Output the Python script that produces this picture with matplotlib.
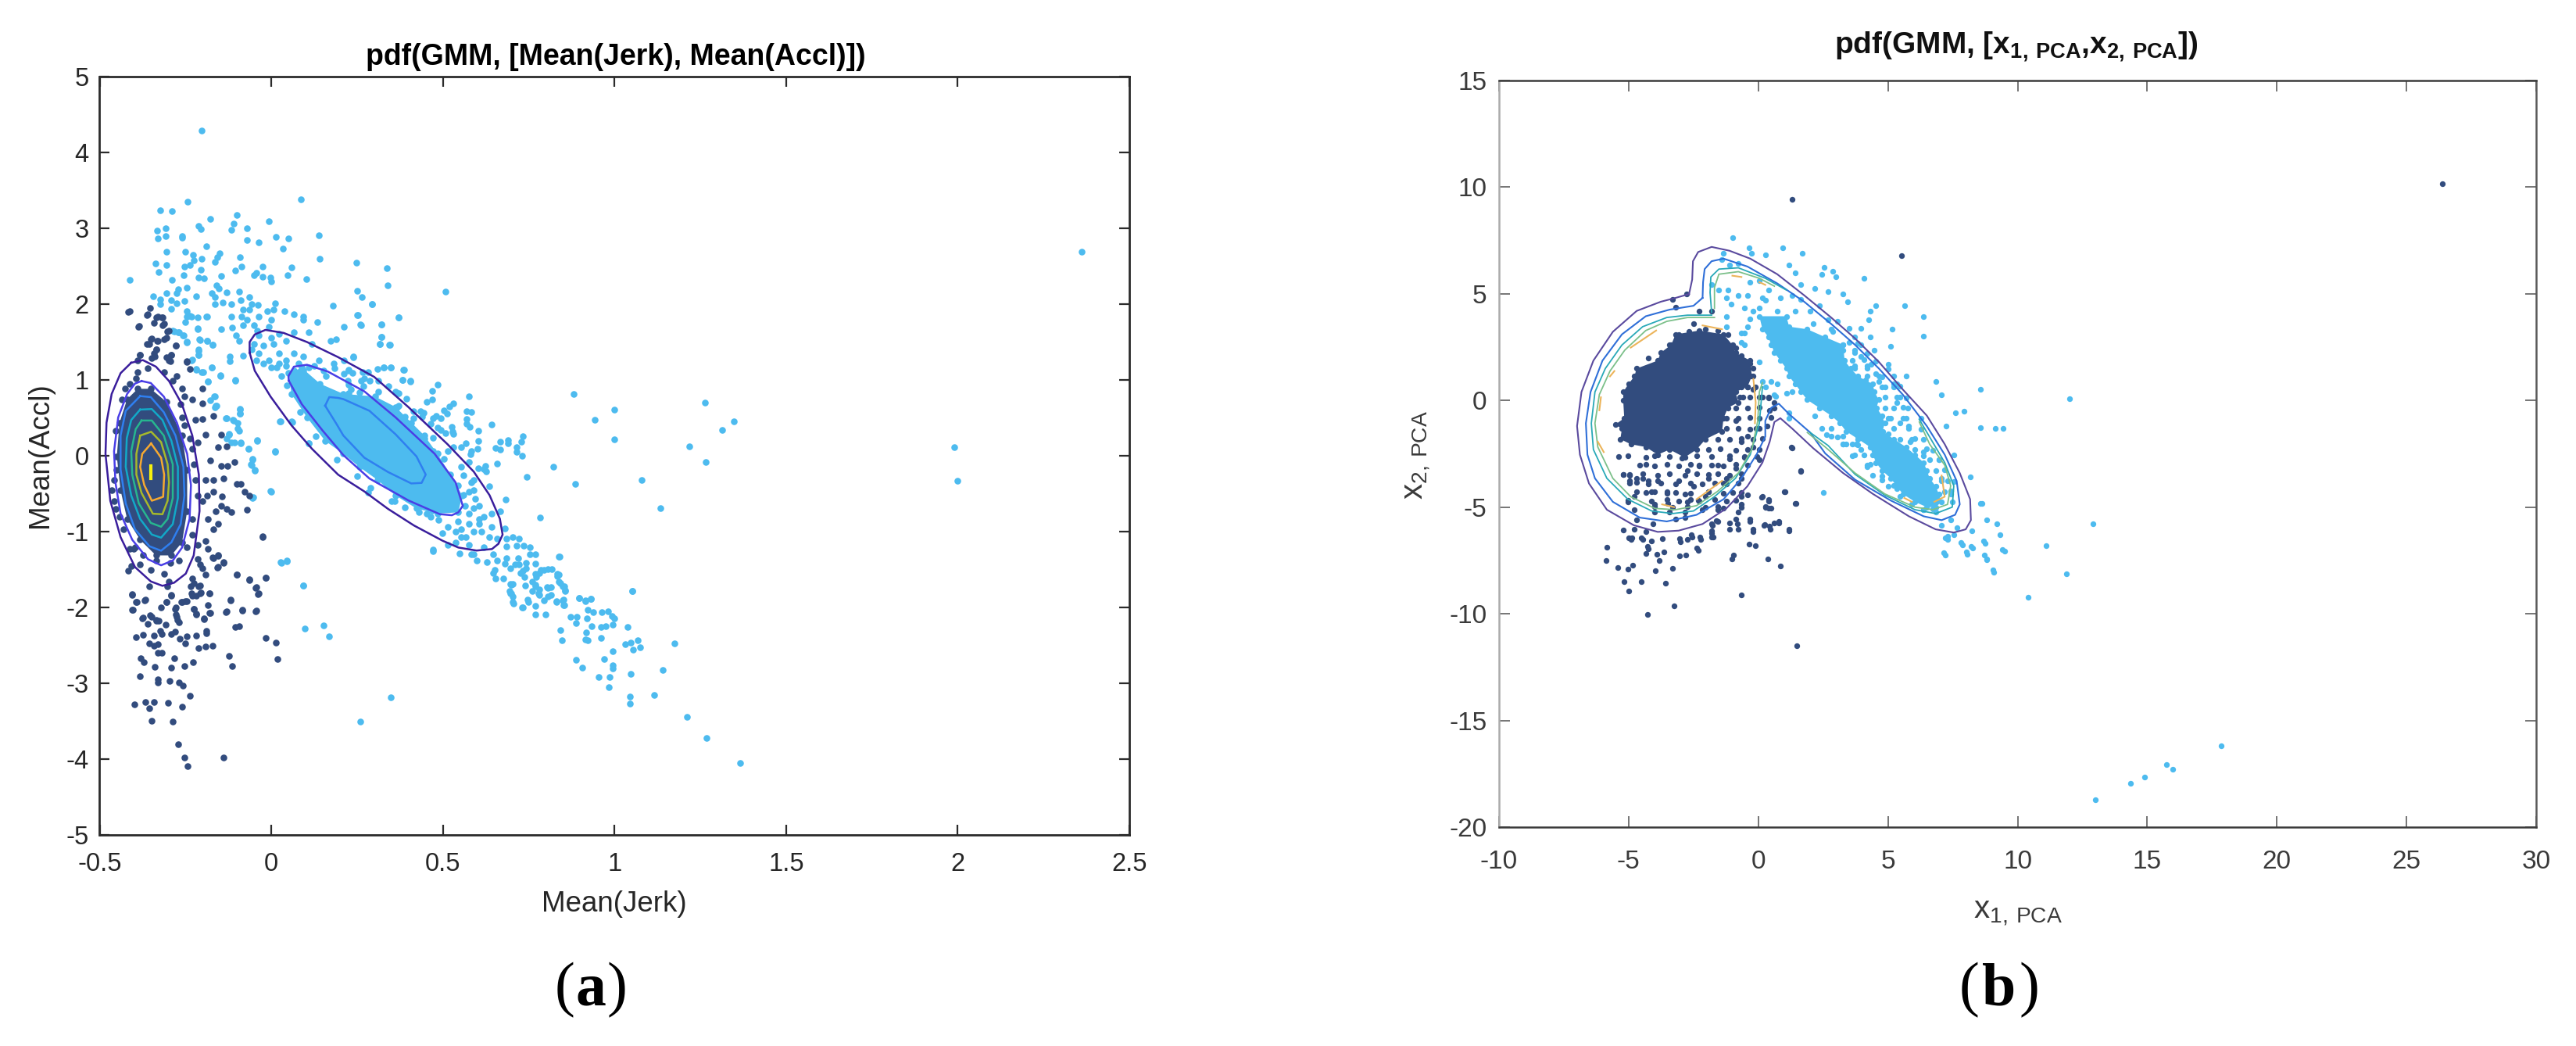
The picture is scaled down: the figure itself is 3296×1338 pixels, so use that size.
import numpy as np
import matplotlib
matplotlib.use('Agg')
import matplotlib.pyplot as plt

plt.rcParams['font.family'] = ['Liberation Sans', 'DejaVu Sans']
plt.rcParams['mathtext.fontset'] = 'custom'
plt.rcParams['mathtext.rm'] = 'Liberation Sans'
plt.rcParams['mathtext.bf'] = 'Liberation Sans:bold'
plt.rcParams['axes.unicode_minus'] = False

W, H = 3296, 1338
LIGHT = '#4dbbef'
DARK = '#324c7e'

# ---- panel (a) values
ticks_ax = [-0.5, 0, 0.5, 1, 1.5, 2, 2.5]
ticklabels_ax = ['-0.5', '0', '0.5', '1', '1.5', '2', '2.5']
ticks_ay = [-5, -4, -3, -2, -1, 0, 1, 2, 3, 4, 5]

core_dark_a = [(-0.389,0.883),(-0.351,0.883),(-0.306,0.712),(-0.260,0.266),(-0.245,-0.181),(-0.245,-0.730),(-0.260,-1.142),
               (-0.291,-1.314),(-0.336,-1.314),(-0.382,-1.108),(-0.420,-0.833),(-0.439,-0.456),(-0.450,-0.009),(-0.442,0.437),(-0.420,0.746)]
core_light_a = [(0.051,1.09),(0.089,1.16),(0.142,0.95),(0.21,0.816),(0.302,0.782),(0.362,0.644),(0.408,0.438),(0.446,0.267),(0.484,0.026),
                (0.522,-0.248),(0.556,-0.523),(0.545,-0.746),(0.484,-0.763),(0.423,-0.695),(0.362,-0.523),(0.309,-0.317),(0.256,-0.145),
                (0.21,0.026),(0.157,0.197),(0.104,0.506),(0.059,0.815)]

dark_a = [(-0.386,1.707),(-0.359,1.862),(-0.336,1.828),(-0.317,1.828),(-0.313,1.742),(-0.351,1.536),(-0.332,1.518),(-0.363,1.474),
          (-0.336,1.398),(-0.340,1.313),(-0.306,1.295),(-0.291,1.330),(-0.294,1.244),(-0.278,1.450),(-0.302,1.639),(-0.382,1.330),
          (-0.389,1.261),(-0.245,1.244),(-0.237,1.141),(-0.389,1.107),(-0.359,1.158),(-0.313,1.107),(-0.275,1.055),(-0.287,0.986),
          (-0.260,0.883),(-0.253,0.780),(-0.264,0.677),(-0.230,0.746),(-0.200,0.883),(-0.200,0.695),(-0.222,0.472),(-0.200,0.489),
          (-0.169,0.523),(-0.215,0.180),(-0.192,0.283),(-0.146,0.283),(-0.154,0.111),(-0.131,0.128),(-0.177,-0.061),(-0.108,-0.078),
          (-0.127,-0.129),(-0.146,-0.129),(-0.192,-0.318),(-0.169,-0.318),(-0.139,-0.301),(-0.101,-0.370),(-0.089,-0.370),(-0.078,-0.473),
          (-0.063,-0.524),(-0.169,-0.473),(-0.143,-0.541),(-0.188,-0.524),(-0.200,-0.593),(-0.146,-0.661),(-0.162,-0.730),(-0.131,-0.696),
          (-0.116,-0.747),(-0.070,-0.713),(-0.184,-0.833),(-0.154,-0.902),(-0.169,-0.970),(-0.025,-1.066),(-0.215,-1.176),(-0.192,-1.125),
          (-0.184,-1.228),(-0.215,-1.365),(-0.169,-1.348),(-0.154,-1.314),(-0.139,-1.399),(-0.207,-1.434),(-0.200,-1.485),(-0.192,-1.571),
          (-0.156,-1.468),(-0.101,-1.564),(-0.063,-1.629),(-0.017,-1.605),(-0.044,-1.732),(-0.036,-1.811),(-0.119,-1.897),(-0.181,-1.811),
          (-0.230,-1.623),(-0.207,-1.708),(-0.207,-1.811),(-0.234,-1.726),(-0.230,-1.846),(-0.291,-1.846),(-0.306,-1.932),(-0.321,-2.0),
          (-0.367,-1.897),(-0.393,-1.925),(-0.405,-1.829),(-0.405,-2.028),(-0.279,-2.0),(-0.275,-2.120),(-0.260,-1.925),(-0.245,-1.914),
          (-0.226,-2.017),(-0.219,-2.086),(-0.181,-2.069),(-0.196,-2.144),(-0.131,-2.052),(-0.084,-2.035),(-0.044,-2.045),(-0.374,-2.131),
          (-0.348,-2.120),(-0.336,-2.172),(-0.408,-1.451),(-0.382,-1.434),(-0.412,-1.228),(-0.401,-1.228),(-0.458,-0.593),(-0.465,-0.456),
          (-0.454,-0.696),(-0.431,-0.970),(-0.416,-1.520),(-0.351,-1.502),(-0.313,-1.554),(-0.298,-1.657),(-0.355,-1.726),(-0.302,-1.726),
          (-0.237,0.231),(-0.230,0.094),(-0.226,-0.112),(-0.222,-0.318),(-0.215,-0.524),(-0.230,-0.833),(-0.230,-1.039),(-0.245,-1.211),
          (-0.268,-1.382),(-0.294,-1.416),(-0.336,-1.382),(-0.374,-1.314),(-0.397,-1.211),(-0.442,-0.799),(-0.427,0.883),(-0.412,0.952),
          (-0.393,1.021),(-0.260,0.506),(-0.253,0.403),(-0.435,0.746),(-0.454,0.334),(-0.458,-0.318),(-0.450,-0.181),
          (-0.417,1.90),(-0.412,1.91),(-0.362,1.86),(-0.352,1.95),(-0.33,1.84),(-0.32,1.82),(-0.342,1.75),(-0.317,1.72),(-0.298,1.65),
          (-0.388,1.70),(-0.349,1.55),(-0.33,1.52),(-0.3125,1.54),(-0.305,1.56),(-0.279,1.45),(-0.356,1.47),(-0.334,1.40),(-0.342,1.355),
          (-0.349,1.29),(-0.291,1.33),(-0.298,1.26),(-0.382,1.33),(-0.246,1.24),
          (-0.406,-1.83),(-0.391,-1.93),(-0.369,-1.91),(-0.404,-2.03),(-0.375,-2.14),(-0.352,-2.10),(-0.334,-2.16),(-0.327,-2.18),(-0.360,-2.22),
          (-0.395,-2.39),(-0.373,-2.36),(-0.342,-2.37),(-0.324,-2.31),(-0.320,-2.35),(-0.308,-2.23),(-0.291,-2.35),(-0.281,-2.32),(-0.356,-2.47),
          (-0.342,-2.50),(-0.330,-2.48),(-0.266,-2.41),(-0.251,-2.47),(-0.247,-2.38),(-0.218,-2.37),(-0.189,-2.34),(-0.189,-2.31),(-0.211,-2.54),
          (-0.192,-2.52),(-0.172,-2.50),(-0.330,-2.60),(-0.320,-2.60),(-0.381,-2.67),(-0.371,-2.72),(-0.339,-2.78),(-0.283,-2.67),(-0.291,-2.79),
          (-0.254,-2.77),(-0.228,-2.72),(-0.382,-2.91),(-0.330,-2.95),(-0.330,-2.99),(-0.297,-2.97),(-0.269,-2.99),(-0.257,-3.03),(-0.237,-3.17),
          (-0.398,-3.28),(-0.366,-3.25),(-0.342,-3.25),(-0.355,-3.33),(-0.301,-3.26),(-0.260,-3.31),(-0.349,-3.49),(-0.288,-3.50),(-0.272,-3.80),
          (-0.253,-3.98),(-0.243,-4.09),(-0.140,-3.98),(-0.124,-2.64),(-0.115,-2.77),(-0.105,-2.26),(-0.094,-2.25),(-0.016,-2.40),(0.013,-2.46),
          (0.019,-2.68),(-0.132,-2.06),(-0.119,-1.91),(-0.084,-2.04),(-0.045,-2.05),(-0.100,-1.57),(-0.065,-1.64),(-0.017,-1.61),(-0.045,-1.74),
          (-0.038,-1.82),(-0.025,-1.07),(-0.157,-1.47),(-0.140,-1.41),(-0.172,-1.34),(-0.156,-1.32),(-0.291,-1.84),(-0.305,-1.93),(-0.262,-1.93),
          (-0.251,-1.92),(-0.280,-2.02),(-0.279,-2.09),(-0.273,-2.16),(-0.269,-2.20),(-0.225,-1.68),(-0.211,-1.72),(-0.206,-1.80),(-0.218,-1.85),
          (-0.233,-1.81),(-0.179,-1.81),(-0.185,-1.97),(-0.177,-2.07),(-0.218,-2.09),(-0.196,-2.15),(-0.225,-2.02)]

light_a = [(-0.203,4.29),(0.087,3.38),(-0.243,3.35),(-0.324,3.24),(-0.289,3.23),(-0.100,3.18),(-0.177,3.12),(-0.006,3.09),(-0.109,3.06),
           (-0.212,3.03),(-0.206,2.99),(-0.307,3.0),(-0.333,2.97),(-0.308,2.90),(-0.331,2.87),(-0.116,2.98),(-0.071,3.0),(-0.071,2.85),
           (-0.26,2.9),(-0.259,2.88),(0.138,2.91),(0.013,2.89),(0.049,2.87),(-0.036,2.81),(0.035,2.73),(-0.189,2.76),(-0.305,2.69),(-0.25,2.69),
           (-0.151,2.67),(-0.157,2.62),(-0.163,2.56),(-0.228,2.65),(-0.225,2.58),(-0.203,2.60),(-0.413,2.32),(-0.337,2.54),(-0.305,2.52),
           (-0.328,2.42),(-0.289,2.32),(-0.256,2.38),(-0.253,2.50),(-0.238,2.52),(-0.206,2.45),(-0.211,2.35),(-0.196,2.34),(-0.092,2.62),
           (-0.086,2.50),(-0.106,2.44),(-0.026,2.50),(-0.044,2.41),(-0.051,2.38),(-0.026,2.36),(-0.003,2.35),(0.0,2.30),(0.058,2.48),(0.048,2.38),
           (0.103,2.33),(0.141,2.60),(0.247,2.55),(0.337,2.47),(0.339,2.25),(0.507,2.17),(0.251,2.18),(0.263,2.09),(0.294,2.0),(0.18,1.98),
           (0.371,1.82),(0.251,1.86),(0.262,1.72),(0.321,1.73),(0.212,1.70),(0.134,1.76),(0.32,1.57),(0.317,1.47),(0.344,1.46),(-0.145,2.37),
           (-0.16,2.25),(-0.153,2.21),(-0.247,2.22),(-0.272,2.20),(-0.275,2.14),(-0.305,2.14),(-0.344,2.10),(-0.324,2.06),(-0.323,2.0),(-0.291,2.05),
           (-0.291,1.94),(-0.276,2.01),(-0.254,2.04),(-0.218,2.10),(-0.174,2.14),(-0.163,2.09),(-0.164,2.0),(-0.131,2.15),(-0.141,2.02),(-0.116,2.0),
           (-0.094,2.16),(-0.09,2.05),(-0.065,2.09),(-0.058,2.0),(-0.039,1.99),(0.012,2.01),(-0.083,1.93),(-0.065,1.93),(-0.012,1.91),(0.007,1.93),
           (0.039,1.91),(0.065,1.87),(-0.247,1.91),(-0.247,1.84),(-0.233,1.84),(-0.189,1.84),(-0.116,1.84),(-0.087,1.84),(-0.07,1.79),(-0.036,1.84),
           (0.0,1.79),(0.094,1.84),(0.094,1.79),(-0.251,1.76),(-0.214,1.68),(-0.145,1.67),(-0.113,1.69),(-0.083,1.72),(-0.051,1.72),(-0.041,1.65),
           (-0.007,1.70),(-0.283,1.64),(-0.269,1.63),(-0.257,1.59),(-0.246,1.49),(-0.208,1.53),(-0.188,1.52),(-0.17,1.46),(-0.211,1.40),(-0.211,1.33),
           (-0.102,1.59),(-0.094,1.52),(0.044,1.52),(0.065,1.63),(0.109,1.63),(0.119,1.47),(0.174,1.52),(0.189,1.54),(-0.121,1.31),(-0.121,1.25),
           (-0.083,1.32),(-0.233,1.26),(-0.218,1.13),(-0.203,1.10),(-0.174,1.17),(-0.148,1.06),(-0.106,1.0),(-0.185,0.98),(-0.167,0.78),(-0.16,0.66),
           (-0.164,0.64),(-0.131,0.50),(-0.109,0.46),(-0.092,0.62),(-0.092,0.56),(-0.097,0.36),(-0.124,0.29),(-0.116,0.18),(-0.09,0.17),(-0.041,0.20),
           (-0.067,0.09),(-0.055,-0.05),(-0.058,-0.12),(-0.048,-0.19),(0.012,0.05),(-0.001,-0.47),(-0.055,-0.56),(0.028,0.45),(0.058,0.45),(0.108,0.16),
           (0.283,-0.48),(0.36,-0.60),(-0.036,1.585),(0,1.56),(0.022,1.61),(-0.051,1.47),(-0.022,1.45),(0.007,1.47),(-0.036,1.355),(0.022,1.355),
           (0.065,1.355),(-0.007,1.26),(0.044,1.26),(0.094,1.31),(0.138,1.26),(0.015,1.17),(0.08,1.22),(0.153,1.12),(0.211,1.26),(0.24,1.31),(0.109,1.17),
           (0.185,1.15),(0.225,1.12),(0.327,1.17),(0.349,1.16),(0.385,1.13),(0.382,1.0),(0.404,0.99),(0.182,1.22),(0.283,1.10),(0.262,0.99),(0.3125,0.99),
           (0.371,0.82),(-0.238,1.845),(-0.215,1.828),(-0.188,1.838),(-0.287,1.646),(-0.272,1.632),(-0.256,1.587),(-0.245,1.501),(-0.215,1.673),
           (-0.230,1.268),(-0.209,1.536),(-0.188,1.519),(-0.171,1.460),(-0.212,1.381),(-0.211,1.330),(-0.218,1.141),(-0.199,1.107),(-0.173,1.168),
           (-0.148,1.055),(-0.184,0.980),(-0.106,0.993),(-0.165,0.780),(-0.177,0.729),(-0.162,0.660),(-0.133,0.499),(-0.112,0.471),(-0.097,0.437),
           (-0.093,0.334),(-0.092,0.609),(-0.092,0.557),(-0.124,0.283),(-0.131,0.231),(-0.108,0.180),(-0.089,0.173),(-0.042,0.204),(-0.067,0.094),
           (-0.055,-0.043),(-0.059,-0.112),(-0.048,-0.198),(0.011,0.060),(-0.002,-0.466),(-0.053,-0.551),(0.028,-1.406),(0.045,-1.382),(0.093,-1.708),
           (0.108,0.163),(0.024,0.454),(0.062,0.444),
           (0.294,2.0),(0.252,1.86),(0.37,1.82),(0.26,1.73),(0.322,1.73),(0.32,1.57),(0.317,1.47),(0.345,1.46),(0.239,1.30),(0.31,1.14),(0.328,1.17),
           (0.349,1.16),(0.386,1.13),(0.382,1.0),(0.405,0.98),(0.485,0.94),(0.469,0.86),(0.47,0.74),(0.452,0.71),(0.575,0.78),(0.53,0.69),(0.52,0.65),
           (0.503,0.60),(0.513,0.56),(0.569,0.59),(0.583,0.58),(0.57,0.48),(0.57,0.42),(0.579,0.38),(0.604,0.33),(0.643,0.41),(0.507,0.30),(0.526,0.38),
           (0.527,0.32),(0.48,0.53),(0.493,0.49),(0.471,0.24),(0.567,0.16),(0.603,0.20),(0.666,0.19),(0.689,0.21),(0.689,0.17),(0.734,0.26),(0.729,0.19),
           (0.715,0.11),(0.715,0.05),(0.730,0.0),(0.653,0.10),(0.666,0.085),(0.583,0.06),(0.60,0.09),(0.53,0.11),(0.514,0.06),(0.88,0.81),(0.999,0.61),
           (0.943,0.47),(0.999,0.215),(1.264,0.70),(1.314,0.34),(1.348,0.455),(1.217,0.12),(1.266,-0.08),(0.822,-0.14),(0.745,-0.28),(0.885,-0.37),
           (1.08,-0.32),(1.134,-0.69),(0.784,-0.815),(0.682,-0.58),(0.634,-0.40),(0.658,-0.10),(0.624,-0.13),(0.62,-0.18),(0.575,-0.08),(0.552,-0.145),
           (0.561,-0.26),(0.583,-0.35),(0.59,-0.32),(0.59,-0.455),(0.575,-0.47),(0.594,-0.565),(0.668,-0.73),(0.681,-0.955),(0.685,-1.09),(0.704,-1.07),
           (0.721,-1.09),(0.685,-1.2),(0.715,-1.19),(0.736,-1.19),(0.754,-1.21),(0.753,-1.30),(0.769,-1.30),(0.838,-1.33),(0.769,-1.42),(0.685,-1.35),
           (0.719,-1.35),(0.721,-1.43),(0.741,-1.41),(0.711,-1.43),(0.696,-1.48),(0.734,-1.52),(0.742,-1.48),(0.727,-1.55),(0.795,-1.50),(0.818,-1.49),
           (0.78,-1.55),(0.772,-1.60),(0.837,-1.57),(0.833,-1.59),(0.837,-1.66),(0.651,-1.50),(0.647,-1.55),(0.653,-1.62),(0.677,-1.62),(0.696,-1.69),
           (0.704,-1.69),(0.738,-1.60),(0.74,-1.71),(0.761,-1.66),(0.769,-1.72),(0.761,-1.78),(0.78,-1.76),(0.803,-1.735),(0.814,-1.73),(0.854,-1.72),
           (0.856,-1.78),(0.695,-1.78),(0.696,-1.81),(0.78,-1.84),(0.795,-1.91),(0.814,-1.84),(0.704,-1.86),(0.704,-1.93),(0.747,-1.90),(0.83,-1.92),
           (0.852,-1.90),(0.852,-1.97),(0.898,-1.88),(0.915,-1.91),(0.932,-1.89),(1.051,-1.78),(0.731,-2.0),(0.769,-1.98),(0.59,-1.30),(0.598,-1.38),
           (0.628,-1.40),(0.583,-1.30),(0.647,-1.30),(0.658,-1.38),(0.681,-1.42),(0.471,-1.24),(0.548,-1.29),(0.575,-0.76),(0.59,-0.69),(0.605,-0.66),
           (0.575,-0.90),(0.605,-0.83),(0.552,-0.97),(0.59,-1.0),(0.552,-1.07),(0.575,-1.18),(0.62,-1.21),(0.636,-1.07),(0.658,-1.09),(0.643,-0.94),
           (0.613,-1.0),(0.643,-0.76),(0.62,-0.80),(0.537,-1.0),(0.545,-0.87),(0.514,-0.94),(0.488,-0.85),(0.499,-1.02),(0.465,-0.80),(0.453,-0.76),
           (0.514,-1.18),(0.537,-1.14),(0.567,-1.07),(0.605,-0.90),(0.435,0.59),(0.465,0.42),(0.484,0.37),(0.446,0.23),(0.472,0.06),(0.503,-0.04),
           (0.514,-0.25),(0.545,-0.39),(0.56,-0.52),(0.44,0.52),(0.415,0.49),(0.389,0.52),(0.362,0.85),(0.393,0.75),(0.366,0.64),(0.31,0.61),(0.286,0.71),
           (0.256,0.83),(0.226,0.82),(0.233,0.88),(0.271,1.02),(0.222,0.99),(0.286,0.99),(0.267,1.10),(0.237,1.09),(0.226,1.13),
           (0.029,-1.41),(0.045,-1.39),(0.093,-1.71),(0.097,-2.28),(0.153,-2.24),(0.169,-2.38),(0.349,-3.19),(0.259,-3.50),(0.471,-1.26),(0.839,-1.33),
           (1.051,-1.78),(1.174,-2.47),(1.141,-2.82),(1.115,-3.15),(1.211,-3.44),(1.269,-3.72),(1.365,-4.05),(1.045,-3.18),(1.045,-3.27),(1.048,-2.88),
           (0.983,-3.05),(0.985,-2.92),(0.953,-2.92),(0.906,-2.79),(0.887,-2.69),(0.969,-2.68),(0.996,-2.58),(0.996,-2.76),(0.996,-2.80),(1.032,-2.48),
           (1.047,-2.46),(1.068,-2.43),(1.074,-2.53),(1.054,-2.56),(1.038,-2.26),(0.996,-2.23),(0.999,-2.14),(0.974,-2.25),(0.961,-2.26),(0.933,-2.25),
           (0.961,-2.40),(0.923,-2.43),(0.916,-2.42),(0.917,-2.33),(0.887,-2.21),(0.872,-2.12),(0.890,-2.12),(0.843,-2.30),(0.846,-2.43),(0.919,-2.14),
           (0.923,-2.03),(0.938,-2.06),(0.962,-2.06),(0.981,-2.05),(0.993,-2.11),(0.898,-1.88),(0.916,-1.92),(0.932,-1.89),(0.850,-1.91),(0.853,-1.97),
           (0.831,-1.93),(0.807,-1.86),(0.80,-2.09),(0.77,-2.09),(0.749,-1.93),(0.734,-2.0),(0.705,-1.95),(0.698,-1.81),(0.698,-1.70),(0.833,-1.56),
           (0.843,-1.68),(0.855,-1.77),(0.807,-1.49),(0.785,-1.51),(0.77,-1.56),(0.77,-1.70),(0.778,-1.81),(0.807,-1.74),(0.85,-1.72),
           (-0.058,1.40),(-0.044,1.26),(-0.022,1.22),(0,1.17),(0.022,1.22),(0.044,1.19),(0.065,1.12),(0.094,1.12),(0.124,1.19),(0.16,1.055),(0.211,1.08),
           (0.225,0.94),(0.269,0.92),(0.3125,0.85),(0.342,0.92),(0.371,0.66),(0.414,0.59),(0.443,0.57),(0.472,0.50),(0.494,0.34),(0.53,0.29),(0.552,0.11),
           (0.581,0.02),(0.603,-0.17),(0.625,-0.21),(0.47,-0.72),(0.43,-0.74),(0.39,-0.68),(0.35,-0.60),(0.29,-0.42),(0.25,-0.27),(0.19,-0.05),(0.13,0.26),
           (0.085,0.58),(0.045,0.93),(0.03,1.05),(0.52,-0.62),(0.565,-0.66),
           (1.99,0.11),(2.0,-0.33),(2.36,2.69)]

# contours of panel (a), first group around the dark cluster, outer ones first
ca_dark = [
    ('#3a1e9c', 1.8, [(-0.408,1.227),(-0.374,1.261),(-0.336,1.175),(-0.298,0.986),(-0.260,0.677),(-0.230,0.266),(-0.211,-0.249),(-0.209,-0.730),
                      (-0.226,-1.314),(-0.249,-1.554),(-0.283,-1.674),(-0.317,-1.715),(-0.351,-1.657),(-0.397,-1.468),(-0.439,-1.073),(-0.469,-0.593),
                      (-0.483,0.025),(-0.480,0.437),(-0.465,0.815),(-0.439,1.089),(-0.408,1.227)]),
    ('#4a3fe6', 1.8, [(-0.378,0.986),(-0.351,0.959),(-0.313,0.780),(-0.275,0.437),(-0.245,0.025),(-0.234,-0.387),(-0.238,-0.833),(-0.260,-1.211),
                      (-0.287,-1.382),(-0.321,-1.444),(-0.359,-1.365),(-0.405,-1.108),(-0.439,-0.764),(-0.454,-0.352),(-0.458,0.060),(-0.446,0.506),
                      (-0.420,0.815),(-0.397,0.952),(-0.378,0.986)]),
    ('#2f7ff0', 1.8, [(-0.382,0.787),(-0.351,0.774),(-0.313,0.574),(-0.279,0.266),(-0.256,-0.146),(-0.253,-0.524),(-0.264,-0.902),(-0.291,-1.142),
                      (-0.321,-1.252),(-0.355,-1.193),(-0.397,-0.970),(-0.424,-0.627),(-0.439,-0.181),(-0.439,0.266),(-0.424,0.592),(-0.382,0.787)]),
    ('#12a9c8', 1.8, [(-0.382,0.609),(-0.348,0.616),(-0.317,0.472),(-0.291,0.197),(-0.272,-0.146),(-0.272,-0.558),(-0.287,-0.902),(-0.321,-1.080),
                      (-0.348,-1.039),(-0.382,-0.833),(-0.408,-0.524),(-0.424,-0.146),(-0.421,0.231),(-0.408,0.472),(-0.382,0.609)]),
    ('#27b68f', 1.8, [(-0.378,0.465),(-0.348,0.465),(-0.313,0.266),(-0.287,-0.112),(-0.287,-0.558),(-0.302,-0.833),(-0.321,-0.936),(-0.351,-0.885),
                      (-0.386,-0.627),(-0.405,-0.249),(-0.408,0.060),(-0.395,0.351),(-0.378,0.465)]),
    ('#a6b92b', 1.8, [(-0.382,0.266),(-0.350,0.317),(-0.321,0.180),(-0.302,-0.112),(-0.298,-0.352),(-0.302,-0.593),(-0.317,-0.771),(-0.345,-0.764),
                      (-0.378,-0.490),(-0.393,-0.249),(-0.393,0.025),(-0.382,0.266)]),
    ('#f6a931', 1.8, [(-0.350,0.162),(-0.321,-0.026),(-0.312,-0.249),(-0.315,-0.541),(-0.348,-0.593),(-0.370,-0.387),(-0.382,-0.146),(-0.376,0.025),(-0.350,0.162)]),
    ('#f5f00f', 3.0, [(-0.350,-0.129),(-0.350,-0.301)]),
]
ca_light = [
    ('#3a1e9c', 1.8, [(-0.063,1.36),(-0.063,1.50),(-0.048,1.60),(-0.017,1.66),(0.036,1.62),(0.104,1.50),(0.195,1.30),(0.30,1.04),(0.40,0.64),(0.514,0.15),
                      (0.59,-0.21),(0.636,-0.52),(0.666,-0.83),(0.674,-1.04),(0.662,-1.16),(0.643,-1.23),(0.598,-1.25),(0.545,-1.21),(0.499,-1.12),(0.416,-0.92),
                      (0.340,-0.70),(0.271,-0.47),(0.195,-0.25),(0.119,0.09),(0.059,0.40),(-0.002,0.78),(-0.048,1.12),(-0.063,1.36)]),
    ('#4a3fe6', 1.8, [(0.051,0.99),(0.05,1.05),(0.066,1.175),(0.104,1.20),(0.165,1.11),(0.271,0.85),(0.362,0.507),(0.476,0.026),(0.537,-0.351),(0.558,-0.66),
                      (0.545,-0.746),(0.526,-0.784),(0.491,-0.77),(0.40,-0.59),(0.286,-0.30),(0.21,0.009),(0.15,0.33),(0.089,0.68),(0.051,0.99)]),
    ('#2f7ff0', 1.8, [(0.157,0.66),(0.169,0.774),(0.195,0.763),(0.21,0.747),(0.286,0.593),(0.362,0.284),(0.423,-0.008),(0.45,-0.248),(0.438,-0.358),(0.408,-0.365),
                      (0.34,-0.214),(0.271,-0.025),(0.21,0.267),(0.19,0.42),(0.157,0.66)]),
]

# ---- panel (b) values
ticks_bx = [-10, -5, 0, 5, 10, 15, 20, 25, 30]
ticks_by = [-20, -15, -10, -5, 0, 5, 10, 15]

core_dark_b = [(-3.19,3.10),(-2.27,3.28),(-1.34,3.10),(-1.0,2.61),(-0.88,2.24),(-0.31,1.87),(-0.25,1.13),(-0.42,0.64),(-0.88,0.40),(-0.77,-0.09),(-1.17,-0.34),
               (-1.34,-0.83),(-1.40,-1.44),(-2.03,-1.81),(-2.38,-2.30),(-2.84,-2.67),(-3.42,-2.30),(-3.88,-2.54),(-4.34,-2.18),(-4.92,-2.05),(-5.32,-1.81),(-5.26,-1.32),
               (-5.52,-1.13),(-5.17,-0.83),(-5.21,0.0),(-5.21,0.40),(-5.01,0.77),(-4.78,1.13),(-4.69,1.50),(-3.88,1.87),(-3.76,2.24),(-3.36,2.61)]
core_light_b = [(0.04,3.95),(1.08,3.95),(1.19,3.46),(1.89,3.34),(2.58,2.97),(3.27,2.61),(3.33,1.87),(3.56,1.50),(3.85,1.13),(4.42,0.77),(4.48,0.40),(4.65,0.03),(4.56,-0.34),
                (4.77,-0.71),(4.88,-1.07),(4.79,-1.44),(5.23,-1.81),(5.69,-2.18),(6.04,-2.54),(6.38,-2.91),(6.50,-3.28),(6.61,-3.65),(6.84,-4.02),(6.96,-4.38),(7.07,-4.75),
                (6.84,-5.0),(6.50,-5.0),(6.04,-4.75),(5.57,-4.38),(5.34,-4.02),(5.11,-3.65),(4.77,-3.28),(4.54,-2.91),(4.42,-2.54),(4.31,-2.18),(3.85,-1.81),(3.38,-1.44),
                (3.15,-1.07),(2.81,-0.71),(2.35,-0.34),(1.89,0.03),(1.65,0.40),(1.42,0.77),(1.19,1.13),(1.08,1.50),(0.85,1.87),(0.62,2.24),(0.50,2.61),(0.39,2.97),(0.16,3.34)]

dark_b = [(1.29,9.42),(26.39,10.17),(5.53,6.79),(1.48,-11.51),(-3.24,-9.62),(-4.26,-10.03),(-0.67,-9.11),(-3.59,-8.57),(-4.51,-8.49),(-5.18,-8.49),(-5.01,-8.93),
          (0.86,-7.75),(0.36,-7.44),(-1.02,-7.43),(-0.96,-7.23),(-5.41,-7.85),(-5.03,-7.89),(-4.86,-7.72),(-3.97,-7.98),(-3.32,-7.87),(-5.87,-7.52),(-5.85,-6.87),
          (-4.34,-7.18),(-3.92,-7.21),(-3.63,-7.1),(-3.82,-7.51),(-3.03,-7.3),(-2.8,-7.26),(-4.26,-6.85),(-2.38,-6.9),(-2.25,-6.41),(-2.57,-6.31),(-3.05,-6.49),
          (-1.8,-6.39),(-1.79,-6.23),(-0.36,-6.74),(-0.12,-6.8),(1.17,-6.03),(0.79,-5.66),(0.6,-5.74),(0.25,-5.8),(0.44,-5.9),(-0.31,-5.57),(-0.21,-6.03),(-1.61,-5.62),
          (-1.77,-5.87),(-5.01,-6.44),(-4.88,-6.44),(-4.51,-6.44),(1.46,-4.81),(1.0,-4.27),(0.12,-4.52),(0.4,-4.71),(0.4,-5.04),(1.27,-2.18),(1.65,-3.28),
          (-3.07,3.10),(-2.67,3.22),(-2.03,3.34),(-1.57,3.28),(-1.17,3.10),(-2.50,3.59),(-3.42,2.60),(-1.46,2.73),(-0.88,2.48),(-1.0,2.11),(-0.65,2.11),(-0.42,1.50),
          (-0.31,1.75),(-0.65,1.13),(-1.0,0.89),(-0.42,0.64),(-0.19,0.52),(-0.59,0.15),(-1.0,0.4),(0.04,0.15),(0.39,0.15),(0.62,-0.09),(0.44,-0.46),(0.33,-1.2),(-0.42,-1.69),
          (-0.07,-1.32),(-0.88,-0.95),(-0.65,-1.93),(-0.19,-2.18),(-1.11,-2.73),(-0.54,-2.67),(0.04,-2.79),(-1.57,-3.03),(-0.88,-3.16),(-1.23,-3.65),(-0.65,-3.65),(-1.92,-3.65),
          (-2.27,-3.03),(-2.73,-3.28),(-3.07,-3.77),(-2.50,-4.02),(-1.92,-4.26),(-1.34,-3.89),(-2.84,-4.38),(-3.53,-4.26),(-4.11,-4.26),(-3.88,-3.77),(-4.46,-3.65),(-4.23,-3.77),
          (-4.69,-3.65),(-4.98,-3.46),(-5.21,-3.46),(-4.98,-3.77),(-4.69,-4.26),(-4.80,-4.51),(-5.03,-4.75),(-3.99,-4.87),(-3.48,-4.81),(-2.73,-4.75),(-2.32,-4.69),(-2.03,-4.51),
          (-4.80,-5.12),(-3.99,-5.24),(-3.42,-5.24),(-2.84,-5.24),(-2.15,-5.12),(-1.57,-5.12),(-1.34,-5.06),(-0.65,-4.51),(-0.42,-4.44),(-0.65,-4.87),(-0.77,-5.24),(0.16,-4.51),
          (0.39,-4.63),(0.27,-5.0),(0.50,-5.06),(1.02,-4.26),(1.42,-4.81),(1.31,-2.24),(1.65,-3.32),(-4.69,-5.61),(-4.05,-5.79),(-3.19,-5.55),(-2.84,-5.49),(-1.80,-5.79),(-1.57,-5.67),
          (-1.11,-5.73),(-0.88,-5.55),(-0.82,-5.79),(-0.31,-5.67),(0.21,-5.85),(0.47,-6.04),(0.79,-5.73),(1.19,-6.10),(-0.19,-6.16),(-1.11,-6.04),(-0.77,-6.04),(-1.80,-6.10),(-1.75,-6.41),
          (-2.21,-6.53),(-3.01,-6.61),(-2.73,-6.53),(-2.55,-6.41),(-5.21,-6.06),(-4.80,-6.04),(-4.34,-6.16),(-4.92,-6.53),(-4.46,-6.53),(-4.11,-6.59),(-3.71,-6.47),(-4.23,-6.96),(-2.32,-7.02),
          (-2.78,4.99),(-3.30,4.75),(-3.19,4.38),(-2.27,4.20),(-1.80,4.20),(-4.23,1.99),
          # rows across the thinner lower half of the cluster
          (-5.38,-2.61),(-5.03,-2.58),(-4.34,-2.65),(-3.99,-2.60),(-3.42,-2.64),(-2.96,-2.70),(-2.38,-2.58),(-1.80,-2.63),(-1.11,-2.60),(-0.54,-2.64),(-0.04,-2.61),
          (-4.57,-3.03),(-4.34,-3.00),(-3.99,-3.06),(-3.53,-3.01),(-3.07,-3.05),(-2.61,-3.00),(-2.27,-3.06),(-1.80,-3.02),(-1.34,-3.05),(-0.88,-3.00),(-0.42,-3.04),
          (-5.21,-3.46),(-4.98,-3.50),(-4.46,-3.44),(-3.88,-3.49),(-3.42,-3.45),(-2.84,-3.50),(-2.38,-3.43),(-1.92,-3.48),(-1.57,-3.44),(-1.11,-3.50),(-0.65,-3.45),
          (-4.98,-3.89),(-4.69,-3.85),(-4.23,-3.92),(-3.76,-3.87),(-3.19,-3.92),(-2.61,-3.86),(-2.15,-3.90),(-1.69,-3.88),(-1.23,-3.92),(-0.77,-3.87),
          (-4.34,-4.32),(-3.99,-4.28),(-3.53,-4.35),(-3.19,-4.30),(-2.61,-4.34),(-1.92,-4.28),(-1.34,-4.35),(-1.0,-4.30),(-0.65,-4.33),
          (-5.03,-4.69),(-4.11,-4.72),(-3.53,-4.66),(-3.07,-4.71),(-2.61,-4.66),(-2.27,-4.70),(-1.69,-4.65),(-1.23,-4.72),(-0.88,-4.67),
          (-3.99,-4.99),(-3.30,-5.02),(-2.73,-4.96),(-2.03,-5.01),(-1.57,-4.97),(-0.65,-5.02),(0.27,-4.97),
          (-0.19,1.50),(-0.19,1.13),(-0.65,0.64),(-0.10,0.64),(-0.71,0.15),(-0.31,0.15),(0.16,0.15),(0.39,0.12),(-0.88,-0.34),(-0.42,-0.36),(0.04,-0.32),(0.62,-0.36),
          (-1.23,-0.83),(-0.77,-0.85),(-0.31,-0.81),(0.04,-0.84),(0.50,-0.80),(-1.23,-1.32),(-0.77,-1.30),(-0.31,-1.34),(0.04,-1.31),(-1.57,-1.81),(-1.11,-1.83),(-0.65,-1.79),
          (-0.19,-1.82),(0.16,-1.80),(-1.92,-2.30),(-1.46,-2.28),(-0.88,-2.32),(-0.42,-2.29),(0.04,-2.31)]

light_b = [(13.0,-18.7),(14.37,-17.94),(14.9,-17.67),(15.74,-17.08),(15.97,-17.27),(17.84,-16.2),(10.42,-9.24),(11.87,-8.11),(12.9,-5.79),(11.09,-6.79),(8.68,-6.57),(7.81,-6.67),
           (8.21,-6.84),(8.02,-7.1),(8.71,-7.26),(8.81,-7.43),(9.04,-7.93),(7.16,-7.15),(7.2,-6.44),(7.31,-6.38),(9.42,-6.98),(8.58,-4.81),(12.0,0.07),
           (-1.34,6.90),(-1.40,6.59),(-1.11,6.34),(-0.77,6.41),(-1.80,5.43),(-1.52,5.18),(-1.17,5.18),(-0.77,4.93),(-0.42,4.93),(-1.23,4.81),(-1.05,4.51),(-0.54,4.32),(-1.23,3.95),
           (-1.23,3.46),(-0.54,3.16),(-0.42,3.46),(-0.19,4.20),(0.27,4.69),(0.85,4.81),(1.31,4.93),(1.65,4.75),(0.39,5.18),(-0.31,5.55),(0.04,5.61),(0.16,4.81),(2.0,4.20),(2.35,4.44),
           (2.69,3.77),(3.04,3.71),(2.87,3.22),(3.50,3.40),(3.27,2.61),(3.96,3.40),(3.73,2.36),(3.96,2.05),(4.48,2.36),(4.31,2.97),(5.11,2.54),(4.36,1.69),(5.0,1.69),(4.13,0.95),
           (4.54,1.26),(4.88,0.64),(5.34,0.77),(5.69,1.13),(5.46,0.15),(5.75,-0.34),(6.27,-0.83),(6.84,0.89),(7.07,0.28),(7.59,-0.58),(7.94,-0.52),(7.25,-1.20),(8.57,0.52),(8.57,-1.26),
           (9.15,-1.32),(9.44,-1.32),(5.63,4.44),(6.36,3.95),(6.36,3.03),(5.17,3.34),(4.31,4.20),(4.54,4.44),(4.25,3.77),(4.08,5.73),(3.27,4.99),(3.44,4.63),(2.69,5.12),(2.17,5.24),
           (1.65,5.42),(1.42,5.98),(1.19,6.34),(0.27,6.83),(-0.25,6.90),(-0.36,7.14),(-1.0,7.63),(0.93,7.14),(1.69,6.90),(2.55,6.25),(2.46,5.92),(2.87,6.04),(2.98,5.79),(5.86,-1.93),
           (6.38,-2.60),(7.54,-2.54),(8.17,-3.59),(8.63,-4.81),(8.80,-5.61),(9.21,-5.79),(9.32,-6.28),(8.75,-6.68),(8.28,-6.93),(8.05,-7.20),(7.22,-7.26),(7.86,-6.77),(8.80,-7.45),
           (9.09,-8.04),(9.50,-7.08),(7.30,-6.53),(7.54,-6.28),(8.23,-6.10),(7.07,-5.85),(7.42,-5.61),(7.65,-5.98),(2.52,-4.30),(5.81,-4.14),(5.34,-4.14),(4.77,-3.71),(4.19,-3.10),
           (3.61,-2.60),(3.38,-2.05),(3.79,-2.05),(2.63,-1.62),(2.17,-0.71),(1.19,-0.58),(0.67,0.21),(0.04,1.81),(-0.54,2.61),(-0.65,3.16),(0.16,0.89),(0.73,0.77),(1.08,0.34),
           (0.27,0.64),(0.50,0.89),(0.62,0.28),(1.19,-0.83),(3.27,2.36),(4.65,0.89),(5.34,-0.09),(5.69,-0.83),(5.92,-1.81),(6.38,-2.42),(6.96,-2.79),(7.07,-3.65),(7.42,-4.38),(7.48,-4.75),
           (6.84,-5.24),(6.38,-5.12),(5.23,-2.30),(5.0,-1.56),(5.46,-1.07),(5.81,-1.20),(3.85,-1.69),(3.27,-2.05),(3.15,-0.34),(2.12,0.64),(1.31,0.40),(3.96,-2.30),(4.54,-2.54),(4.19,-1.07),
           (5.0,-0.83),(5.23,0.77),(-0.31,3.83),(0.04,4.32),(0.73,4.20),(1.42,4.20),(2.12,3.59),(2.81,3.34),(3.73,2.97),(3.96,2.61),(4.19,1.62),(4.65,1.13),(3.73,1.62),(-0.65,2.73),
           # rows along the band, upper right side
           (3.50,2.73),(3.85,2.70),(3.73,2.24),(4.19,2.20),(3.61,1.87),(4.08,1.90),(4.54,1.85),(3.73,1.50),(4.19,1.53),(5.0,1.48),(4.19,1.13),(4.77,1.10),(5.23,1.15),
           (4.77,0.64),(5.23,0.62),(5.46,0.66),(4.88,0.15),(5.34,0.17),(5.69,0.13),(4.88,-0.34),(5.23,-0.36),(5.57,-0.32),(5.11,-0.83),(5.57,-0.85),(5.23,-1.32),(5.81,-1.30),
           (6.27,-1.35),(5.46,-1.81),(6.04,-1.79),(6.38,-1.83),(6.04,-2.30),(6.50,-2.28),(6.73,-2.32),(6.61,-2.79),(6.96,-2.77),(6.84,-3.28),(7.19,-3.26),(7.07,-3.77),(7.30,-3.75),
           (7.54,-3.79),(7.19,-4.26),(7.42,-4.24),
           # and lower left side
           (2.46,-1.32),(2.81,-1.30),(2.81,-1.69),(3.04,-1.71),(3.27,-1.67),(3.27,-2.05),(3.61,-2.03),(3.85,-2.07),(3.73,-2.54),(4.08,-2.56),(4.19,-3.03),(4.31,-3.01),(4.42,-3.52),
           (4.77,-3.54),(5.0,-4.02),(5.23,-4.00),(5.46,-4.51),(5.92,-4.87),(6.38,-5.12),(6.73,-5.10)]

c_purple = [(-2.67,4.99),(-2.55,5.67),(-2.52,6.53),(-2.32,6.96),(-1.80,7.20),(-1.11,7.02),(-0.31,6.65),(0.73,5.92),(1.77,4.93),(2.81,3.89),(3.73,2.91),(4.65,1.81),(5.57,0.52),
            (6.50,-0.71),(7.19,-2.05),(7.77,-3.40),(8.17,-4.63),(8.20,-5.61),(8.00,-6.04),(7.54,-6.19),(6.84,-6.04),(5.81,-5.43),(4.42,-4.38),(3.27,-3.40),(2.12,-2.24),(1.31,-1.32),
            (0.85,-0.83),(0.62,-1.01),(0.44,-1.93),(0.16,-2.91),(-0.42,-4.02),(-1.23,-5.06),(-2.15,-5.79),(-3.07,-6.10),(-3.88,-6.16),(-4.80,-5.85),(-5.84,-5.12),(-6.53,-3.89),
            (-6.88,-2.54),(-6.99,-1.20),(-6.82,0.40),(-6.36,1.87),(-5.61,3.22),(-4.69,4.20),(-3.76,4.63),(-3.19,4.81),(-2.67,4.99)]
c_blue = [(-2.15,4.81),(-2.13,5.55),(-2.07,6.16),(-1.80,6.53),(-1.34,6.65),(-0.42,6.28),(0.73,5.49),(1.77,4.63),(2.81,3.59),(3.73,2.61),(4.65,1.50),(5.57,0.28),(6.50,-1.20),(7.19,-2.54),
          (7.65,-3.77),(7.77,-4.87),(7.59,-5.36),(7.07,-5.61),(6.38,-5.43),(5.11,-4.69),(3.73,-3.71),(2.58,-2.48),(2.0,-1.50),(1.19,-0.64),(0.79,-0.15),(0.50,-0.34),(0.27,-0.95),(0.27,-1.69),
          (-0.07,-2.54),(-0.65,-3.65),(-1.34,-4.63),(-2.38,-5.36),(-3.53,-5.67),(-4.57,-5.49),(-5.61,-4.75),(-6.30,-3.65),(-6.59,-2.54),(-6.65,-1.07),(-6.47,0.40),(-6.01,1.87),(-5.26,3.10),
          (-4.34,3.95),(-3.42,4.26),(-2.50,4.44),(-2.15,4.81)]
c_teal_top = [(-1.80,4.14),(-1.86,5.06),(-1.83,5.79),(-1.52,6.16),(-0.77,6.22),(0.27,5.73),(1.08,5.18)]
c_teal_left = [(-1.80,4.0),(-2.73,4.0),(-3.53,3.89),(-4.46,3.46),(-5.26,2.60),(-5.90,1.50),(-6.30,0.40),(-6.44,-1.07),(-6.36,-2.30),(-5.84,-3.65),(-5.03,-4.63),(-4.11,-5.18),(-3.30,-5.30),
               (-2.50,-5.18),(-1.69,-4.51),(-0.88,-3.65),(-0.31,-2.54),(0.04,-1.07),(0.16,0.64)]
c_teal_low = [(2.0,-1.50),(2.69,-2.11),(3.73,-3.46),(4.88,-4.44),(6.04,-5.12),(6.84,-5.30),(7.48,-5.0),(7.54,-4.0),(7.19,-2.91),(6.21,-0.89)]
c_green_left = [(-1.69,3.89),(-2.73,3.89),(-3.53,3.71),(-4.34,3.28),(-5.15,2.36),(-5.72,1.38),(-6.13,0.28),(-6.30,-1.07),(-6.19,-2.18),(-5.61,-3.65),(-4.92,-4.51),(-3.99,-5.06),(-3.19,-5.12),
                (-2.38,-4.93),(-1.57,-4.26),(-0.77,-3.40),(-0.25,-2.30),(-0.02,-0.95),(0.04,0.40),(0.16,0.83)]
c_green_top = [(-1.69,4.32),(-1.69,5.30),(-1.52,5.92),(-0.77,6.04),(0.04,5.73),(0.62,5.36)]
c_green_low = [(1.89,-1.50),(2.58,-2.18),(3.73,-3.40),(4.88,-4.38),(6.04,-5.0),(6.73,-5.12),(7.30,-4.87),(7.42,-4.0),(7.19,-3.03),(6.61,-2.05),(6.21,-1.01)]
c_orange = [[(-4.92,2.48),(-3.94,3.28)],[(-2.15,3.52),(-1.40,3.34)],[(-5.72,1.13),(-5.55,1.38)],[(-6.07,0.15),(-6.13,-0.46)],[(-6.19,-1.93),(-5.96,-2.42)],
            [(-0.19,1.01),(-0.10,-0.09),(-0.13,-1.07)],[(-2.38,-4.63),(-1.40,-3.77)],[(-3.71,-4.87),(-3.25,-5.0)],[(7.07,-3.52),(7.19,-4.51),(6.79,-4.75)],
            [(5.63,-4.57),(5.92,-4.75)],[(0.04,5.55),(0.27,5.42)],[(-1.0,5.85),(-0.65,5.79)]]


def add_axes(left, right, top, bottom):
    return fig.add_axes([left / W, 1 - bottom / H, (right - left) / W, (bottom - top) / H])


def line(ax, pts, color, lw, z=5):
    pts = np.array(pts)
    ax.plot(pts[:, 0], pts[:, 1], color=color, lw=lw, zorder=z, solid_joinstyle='round')


def blob(ax, pts, color, size, z):
    # dense part of a cluster: filled outline, with dots on its edge so it stays bumpy
    pts = np.array(pts)
    ax.fill(pts[:, 0], pts[:, 1], color=color, lw=0, zorder=z)
    ax.scatter(pts[:, 0], pts[:, 1], s=size, c=color, linewidths=0, zorder=z)


def dots(ax, pts, color, size, z):
    pts = np.array(pts)
    ax.scatter(pts[:, 0], pts[:, 1], s=size, c=color, linewidths=0, zorder=z)


def ptext(x, y, s, **kw):
    return fig.text(x / W, 1 - y / H, s, **kw)


fig = plt.figure(figsize=(W / 100, H / 100), dpi=100, facecolor='white')

# panel (a)
ax1 = add_axes(127.5, 1445, 98, 1068)
blob(ax1, core_light_a, LIGHT, 38, 2)
dots(ax1, light_a, LIGHT, 38, 2)
blob(ax1, core_dark_a, DARK, 38, 3)
dots(ax1, dark_a, DARK, 38, 3)
for col, lw, pts in ca_dark + ca_light:
    line(ax1, pts, col, lw)
ax1.set_xlim(-0.5, 2.5)
ax1.set_ylim(-5, 5)
ax1.set_xticks(ticks_ax, ticklabels_ax)
ax1.set_yticks(ticks_ay)
ax1.tick_params(direction='in', length=9.5, width=1.6, color='#2b2b2b', labelcolor='#262626', labelsize=23.5,
                top=True, right=True)
ax1.tick_params(axis='x', pad=16)
ax1.tick_params(axis='y', pad=10)
for sp in ax1.spines.values():
    sp.set_linewidth(2.0)
    sp.set_color('#2b2b2b')

# panel (b)
ax2 = add_axes(1918, 3245, 103, 1058)
blob(ax2, core_light_b, LIGHT, 28, 2)
dots(ax2, light_b, LIGHT, 28, 2)
blob(ax2, core_dark_b, DARK, 28, 3)
dots(ax2, dark_b, DARK, 28, 3)
line(ax2, c_purple, '#5a4a9e', 1.5)
line(ax2, c_blue, '#2f6fd8', 1.5)
for pts in [c_teal_top, c_teal_left, c_teal_low]:
    line(ax2, pts, '#29a9b8', 1.3)
for pts in [c_green_top, c_green_left, c_green_low]:
    line(ax2, pts, '#7cc08a', 1.3)
for pts in c_orange:
    line(ax2, pts, '#ecb45a', 1.5)
ax2.set_xlim(-10, 30)
ax2.set_ylim(-20, 15)
ax2.set_xticks(ticks_bx)
ax2.set_yticks(ticks_by)
ax2.tick_params(direction='in', length=10, width=1.3, color='#6a6a6a', labelcolor='#3a3a3a', labelsize=24,
                top=True, right=True)
ax2.tick_params(axis='x', pad=21)
ax2.tick_params(axis='y', pad=11)
for sp in ax2.spines.values():
    sp.set_linewidth(1.8)
    sp.set_color('#3c3c3c')
ax2.spines['left'].set_color('#ababab')
ax2.spines['right'].set_color('#5a5a5a')

# titles and labels
ptext(788, 83, 'pdf(GMM, [Mean(Jerk), Mean(Accl)])', fontsize=27, fontweight='bold', ha='center', va='baseline', color='black')
ptext(2580, 69, r'pdf(GMM, [$\mathbf{x}_{\mathbf{1,\,PCA}}$,$\mathbf{x}_{\mathbf{2,\,PCA}}$])', fontsize=28, fontweight='bold',
      ha='center', va='baseline', color='#111111')
ptext(786, 1156, 'Mean(Jerk)', fontsize=26.5, ha='center', va='center', color='#262626')
ptext(51, 582, 'Mean(Accl)', fontsize=26.5, rotation=90, ha='center', va='center', color='#262626')
ptext(2582, 1168, r'$\mathrm{x}_{\mathrm{1,\,PCA}}$', fontsize=29, ha='center', va='center', color='#3a3a3a')
ptext(1814, 582, r'$\mathrm{x}_{\mathrm{2,\,PCA}}$', fontsize=29, rotation=90, ha='center', va='center', color='#3a3a3a')

# panel letters: parens regular, letter bold
for x0, letter in [(756, 'a'), (2558, 'b')]:
    serif = ['Liberation Serif', 'DejaVu Serif']
    dx = 33 if letter == 'a' else 38
    ptext(x0 - dx, 1285, '(', fontsize=56, family=serif, ha='center', va='baseline', color='black')
    ptext(x0, 1285, letter, fontsize=56, family=serif, fontweight='bold', ha='center', va='baseline', color='black')
    ptext(x0 + dx, 1285, ')', fontsize=56, family=serif, ha='center', va='baseline', color='black')

fig.savefig('out.png', dpi=100)
